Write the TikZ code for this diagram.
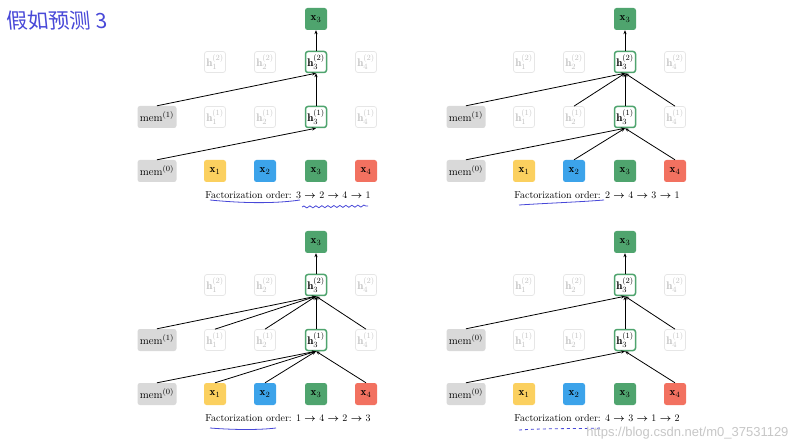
\documentclass[tikz,border=0pt]{standalone}
\usepackage{fontspec}
\newfontfamily\cjkfont{Noto Sans CJK SC}
\newfontfamily\wmfont{Liberation Sans}
\usetikzlibrary{arrows.meta,decorations.pathmorphing}
\definecolor{cyel}{HTML}{FBD05F}
\definecolor{cblu}{HTML}{3CA3EA}
\definecolor{cgrn}{HTML}{4FA46E}
\definecolor{cred}{HTML}{F27160}
\definecolor{cmem}{HTML}{D9D9D9}
\definecolor{cfade}{HTML}{E6E6E6}
\definecolor{cfadetxt}{HTML}{C4C4C4}
\definecolor{hand}{HTML}{4848D8}
\tikzset{
 tok/.style={rounded corners=2.5pt, minimum width=22pt, minimum height=22pt, inner sep=0pt, font=\fontsize{11}{12}\selectfont},
 memb/.style={tok, fill=cmem, minimum width=39pt},
 fade/.style={tok, draw=cfade, line width=0.7pt, text=cfadetxt, minimum width=21pt, minimum height=21pt},
 act/.style={tok, draw=cgrn, line width=1.5pt, fill=white, minimum width=21pt, minimum height=21pt},
 edge/.style={line width=0.8pt, -{Stealth[length=4pt,width=3.2pt]}},
 handline/.style={draw=hand, line width=0.8pt},
}
\newcommand\ar{ {\boldmath$\rightarrow$} }
\newcommand\drawpanel[5]{%
\begin{scope}[shift={(#1,#2)}, name prefix=#3-]
\node[tok, fill=cgrn] (top) at (316,19) {$\mathbf{x}_3$};
\node[fade] (h12) at (215,62) {$\mathbf{h}_1^{(2)}$};
\node[fade] (h22) at (265,62) {$\mathbf{h}_2^{(2)}$};
\node[act]  (h32) at (316,62) {$\mathbf{h}_3^{(2)}$};
\node[fade] (h42) at (366,62) {$\mathbf{h}_4^{(2)}$};
\node[memb] (m1) at (157,117) {mem$^{(#4)}$};
\node[fade] (h11) at (215,117) {$\mathbf{h}_1^{(1)}$};
\node[fade] (h21) at (265,117) {$\mathbf{h}_2^{(1)}$};
\node[act]  (h31) at (316,117) {$\mathbf{h}_3^{(1)}$};
\node[fade] (h41) at (366,117) {$\mathbf{h}_4^{(1)}$};
\node[memb] (m0) at (157,171) {mem$^{(0)}$};
\node[tok, fill=cyel] (x1) at (215,171) {$\mathbf{x}_1$};
\node[tok, fill=cblu] (x2) at (265,171) {$\mathbf{x}_2$};
\node[tok, fill=cgrn] (x3) at (316,171) {$\mathbf{x}_3$};
\node[tok, fill=cred] (x4) at (366,171) {$\mathbf{x}_4$};
\node (cap) at (288,195) {Factorization order: #5};
\draw[edge] (h32) -- (top);
\draw[edge] (h31) -- (h32);
\end{scope}}
\begin{document}
\begin{tikzpicture}[x=1pt,y=-1pt]
\useasboundingbox (0,0) rectangle (797,443);
\fill[white] (0,0) rectangle (797,443);
% handwritten note
\node[anchor=west, text=hand, font=\cjkfont\fontsize{21}{21}\selectfont, xslant=-0.1] (note) at (3,21) {假如预测 3};
% panels
\drawpanel{0}{0}{a}{1}{3\ar 2\ar 4\ar 1}
\drawpanel{309}{0}{b}{1}{2\ar 4\ar 3\ar 1}
\drawpanel{0}{223}{c}{1}{1\ar 4\ar 2\ar 3}
\drawpanel{309}{223}{d}{0}{4\ar 3\ar 1\ar 2}
% edges panel a
\begin{scope}[name prefix=a-]
\draw[edge] (m0.north) -- (h31.south);
\draw[edge] (m1.north) -- (h32.south);
\end{scope}
% edges panel b
\begin{scope}[name prefix=b-]
\draw[edge] (m0.north) -- (h31.south);
\draw[edge] (x2.north) -- (h31.south);
\draw[edge] (x4.north) -- (h31.south);
\draw[edge] (m1.north) -- (h32.south);
\draw[edge] (h21.north) -- (h32.south);
\draw[edge] (h41.north) -- (h32.south);
\end{scope}
% edges panel c
\begin{scope}[name prefix=c-]
\draw[edge] (m0.north) -- (h31.south);
\draw[edge] (x1.north) -- (h31.south);
\draw[edge] (x2.north) -- (h31.south);
\draw[edge] (x4.north) -- (h31.south);
\draw[edge] (m1.north) -- (h32.south);
\draw[edge] (h11.north) -- (h32.south);
\draw[edge] (h21.north) -- (h32.south);
\draw[edge] (h41.north) -- (h32.south);
\end{scope}
% edges panel d
\begin{scope}[name prefix=d-]
\draw[edge] (m0.north) -- (h31.south);
\draw[edge] (x4.north) -- (h31.south);
\draw[edge] (m1.north) -- (h32.south);
\draw[edge] (h41.north) -- (h32.south);
\end{scope}
% handwritten underlines
\draw[handline] (210,200) .. controls (250,204) and (280,203) .. (300,200);
\draw[handline, decorate, decoration={snake, amplitude=1pt, segment length=6pt}] (302,207) -- (368,206);
\draw[handline] (519,205) .. controls (550,203) and (580,202) .. (604,200);
\draw[handline] (210,428) .. controls (235,430) and (260,430) .. (276,428);
\draw[handline, dashed] (519,430) .. controls (550,428) and (580,429) .. (602,428);
% watermark
\node[anchor=east, text=black!22, font=\wmfont\fontsize{13}{13}\selectfont] (wm) at (792,433) {https://blog.csdn.net/m0\_37531129};
\end{tikzpicture}
\end{document}
